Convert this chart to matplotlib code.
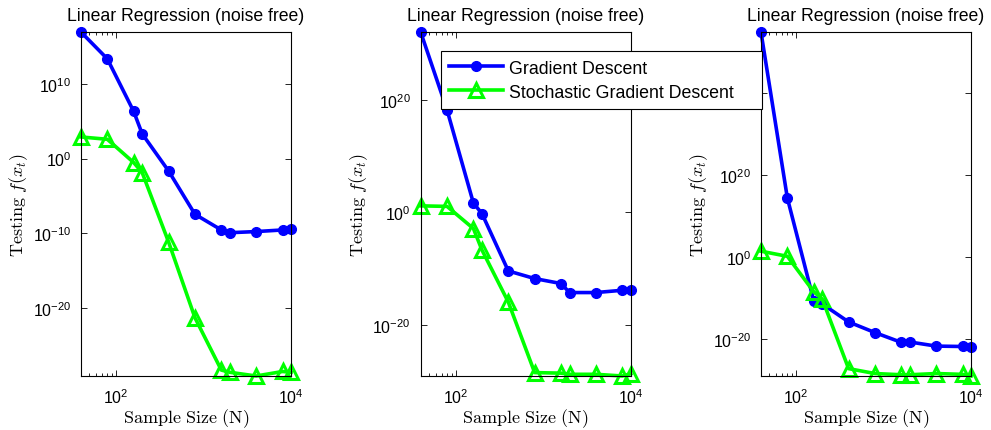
import matplotlib
matplotlib.use("Agg")
import matplotlib.pyplot as plt
import numpy as np

plt.rcParams['font.family'] = ['Liberation Sans', 'DejaVu Sans']
plt.rcParams['mathtext.fontset'] = 'cm'

# sample sizes
N = [40, 80, 160, 200, 400, 800, 1600, 2000, 4000, 8000, 10000]

# testing error, one pair of curves per run
gd_1 = [8.5e16, 2.2e13, 2e6, 2e3, 2.2e-2, 3.5e-8, 2.8e-10, 1.2e-10, 1.7e-10, 2.8e-10, 4.3e-10]
sgd_1 = [7.8e2, 3.8e2, 2.9e-1, 1.3e-2, 6.9e-12, 5e-22, 5e-29, 2.5e-29, 8e-30, 3.2e-29, 2.5e-29]

gd_2 = [1e32, 1.5e18, 45, 0.66, 4.3e-11, 1.9e-12, 2.5e-13, 6.3e-15, 6.3e-15, 1.6e-14, 1.6e-14]
sgd_2 = [15, 12, 1.4e-3, 2.3e-7, 1.3e-16, 4e-29, 3.2e-29, 2e-29, 2e-29, 1e-29, 2.5e-29]

gd_3 = [1e55, 2.9e14, 2.5e-11, 4e-12, 1.6e-16, 4e-19, 1.6e-21, 2e-21, 2e-22, 1.6e-22, 1.3e-22]
sgd_3 = [30, 1.7, 3.7e-9, 6.3e-11, 6.3e-28, 4e-29, 2e-29, 2e-29, 4e-29, 2.5e-29, 1e-29]

runs = [(gd_1, sgd_1), (gd_2, sgd_2), (gd_3, sgd_3)]
yticks = [[1e-20, 1e-10, 1e0, 1e10],
          [1e-20, 1e0, 1e20, 1e40],
          [1e-20, 1e0, 1e20, 1e40]]
lefts = [0.0817, 0.4245, 0.7679]

fig = plt.figure(figsize=(9.91, 4.31), dpi=100)

handles = None
for i, (gd, sgd) in enumerate(runs):
    ax = fig.add_axes([lefts[i], 0.1253, 0.212, 0.798])
    h1, = ax.loglog(N, gd, '-o', color='#0000ff', lw=2.6, ms=7,
                    label='Gradient Descent')
    h2, = ax.loglog(N, sgd, '-^', color='#00ff00', lw=2.6, ms=10,
                    mfc='none', mew=2.2, label='Stochastic Gradient Descent')
    handles = [h1, h2]
    for line in handles:
        line.set_clip_on(False)
    ax.set_xticks([1e2, 1e4])
    ax.set_xticks([50, 60, 70, 80, 90], minor=True)
    ax.set_xticklabels([], minor=True)
    ax.set_yticks(yticks[i])
    ax.yaxis.set_minor_locator(matplotlib.ticker.NullLocator())
    # tight limits on the data range
    lo = min(min(gd), min(sgd))
    hi = max(max(gd), max(sgd))
    ax.set_xlim(40, 10000)
    ax.set_ylim(lo, hi)
    ax.tick_params(which='both', direction='in', top=True, right=True,
                   labelsize=11.5, width=0.6)
    ax.tick_params(which='major', length=4)
    ax.tick_params(axis='y', which='major', pad=7)
    ax.tick_params(axis='x', which='major', pad=8)
    ax.tick_params(which='minor', length=2)
    for s in ax.spines.values():
        s.set_linewidth(0.8)
    ax.set_title('Linear Regression (noise free)', fontsize=12.7, pad=8.5)
    ax.set_xlabel(r'$\mathrm{Sample\ Size\ (N)}$', fontsize=13, labelpad=0)
    ax.set_ylabel(r'$\mathrm{Testing}\ f(x_t)$', fontsize=13, labelpad=2)

leg = fig.legend(handles, [h.get_label() for h in handles],
                 loc='upper left', bbox_to_anchor=(0.445, 0.759, 0.324, 0.12),
                 mode='expand', borderaxespad=0, fontsize=12.8, frameon=True,
                 fancybox=False, edgecolor='black', framealpha=1,
                 borderpad=0.47, handlelength=3.0, labelspacing=0.4,
                 handletextpad=0.35)
leg.get_frame().set_linewidth(0.8)
leg.set_zorder(20)

fig.savefig('out.png', dpi=100)
